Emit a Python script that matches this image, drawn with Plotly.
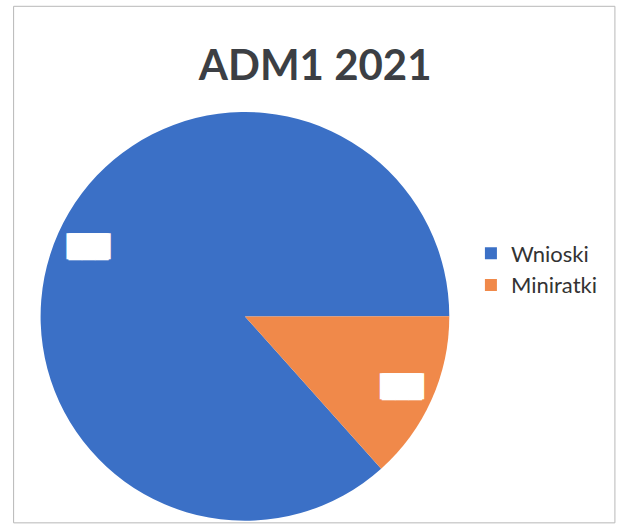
import plotly.graph_objects as go

# values (shares of the pie, in %)
labels = ['Wnioski', 'Miniratki']
values = [86.6, 13.4]
colors = ['#3b70c6', '#f0894a']
box_text = ['███', '███']   # the data labels are blanked out with white boxes

dom = dict(x=[0.0647, 0.728], y=[0.01, 0.787])

fig = go.Figure()
fig.add_trace(go.Pie(labels=labels, values=values, sort=False,
                     direction='clockwise', rotation=138.2,
                     textinfo='none', hoverinfo='label+percent', domain=dom,
                     marker=dict(colors=colors, line=dict(color='white', width=0))))

# transparent ring on top, only to carry the (blanked) data labels near the rim
fig.add_trace(go.Pie(labels=labels, values=values, sort=False, hole=0.68,
                     direction='clockwise', rotation=138.2,
                     text=box_text, textinfo='text', textposition='inside',
                     insidetextorientation='horizontal', hoverinfo='skip',
                     showlegend=False, domain=dom,
                     marker=dict(colors=['rgba(0,0,0,0)'] * 2, line=dict(width=0)),
                     insidetextfont=dict(family='DejaVu Sans Mono', size=22, color='white',
                                         shadow='2px 0px 0px white, -2px 0px 0px white, 0px 1px 0px white')))

fig.update_layout(
    width=618, height=526,
    margin=dict(l=0, r=0, t=0, b=0),
    paper_bgcolor='white',
    plot_bgcolor='white',
    font=dict(family='Lato, sans-serif', size=22, color='#3a3a3a'),
    title=dict(text='<b>ADM1 2021</b>', x=0.51, xanchor='center', y=0.876, yanchor='middle',
               font=dict(family='Lato, sans-serif', size=42, color='#3c3f44')),
    showlegend=True,
    legend=dict(x=0.762, y=0.558, xanchor='left', yanchor='top',
                font=dict(size=22, color='#333333'), itemwidth=30,
                bgcolor='rgba(0,0,0,0)'),
    shapes=[dict(type='rect', xref='paper', yref='paper', x0=0.022, x1=0.995, y0=0.006, y1=0.988,
                 line=dict(color='#b8b8b8', width=1))],
)

fig.write_html("out.html", config={'displayModeBar': False},
               post_script="document.body.style.margin='0';")
